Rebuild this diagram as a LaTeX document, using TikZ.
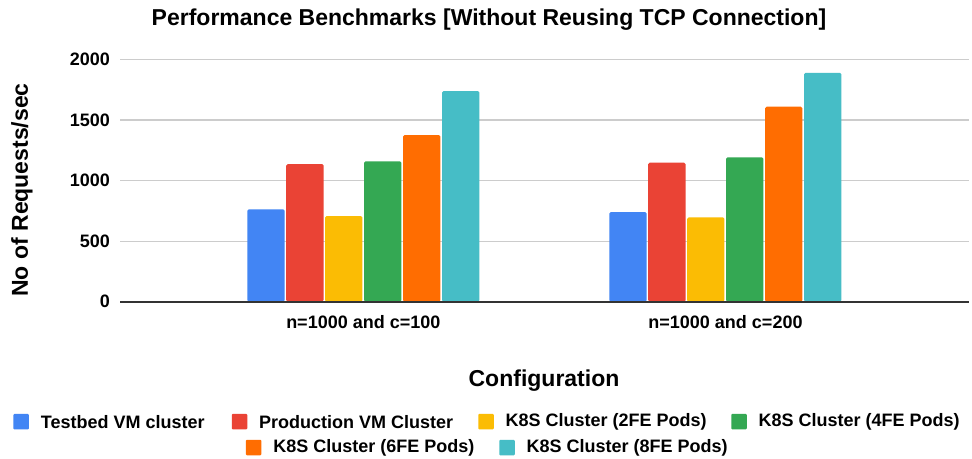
\documentclass[tikz,border=0pt]{standalone}
\usepackage{fontspec}
\setmainfont{Liberation Sans}
\usetikzlibrary{positioning}
\definecolor{tbblue}{HTML}{4285F4}
\definecolor{prodred}{HTML}{EA4335}
\definecolor{kyellow}{HTML}{FBBC04}
\definecolor{kgreen}{HTML}{34A853}
\definecolor{korange}{HTML}{FF6D01}
\definecolor{kteal}{HTML}{46BDC6}
\definecolor{gridgray}{HTML}{CCCCCC}
\definecolor{axisgray}{HTML}{333333}
\begin{document}
\begin{tikzpicture}[x=1pt,y=-1pt,
    lbl/.style={font=\bfseries\fontsize{18}{20}\selectfont,inner sep=0pt},
    bigl/.style={font=\bfseries\fontsize{23}{26}\selectfont,inner sep=0pt},
    gridline/.style={draw=gridgray,line width=1.2pt},
    key/.style={minimum size=15.5pt,inner sep=0pt,rounded corners=1pt}]
  \useasboundingbox (0,0) rectangle (972,458);
  \fill [white] (0,0) rectangle (972,458);
  % title
  \node [bigl] (title) at (489,20) {Performance Benchmarks [Without Reusing TCP Connection]};
  % grid and ticks
  \foreach \v in {500,1000,1500,2000}
    \draw [gridline] (120,{301.7-\v*0.1212}) -- (969,{301.7-\v*0.1212});
  \foreach \v in {0,500,1000,1500,2000}
    \node [lbl,anchor=east] (tick\v) at (110,{301.7-\v*0.1212}) {\v};
  % bars
  \foreach \c/\va/\vb [count=\i from 0] in {tbblue/762/740,prodred/1136/1147,kyellow/707/696,
      kgreen/1158/1191,korange/1375/1609,kteal/1738/1889} {
    \fill [\c,rounded corners=1.5pt] (247.3+\i*38.94,301.7) rectangle ++(37.3,{-\va*0.1212});
    \fill [\c,rounded corners=1.5pt] (609.3+\i*38.94,301.7) rectangle ++(37.3,{-\vb*0.1212});
  }
  \draw [axisgray,line width=1.8pt] (120,301.7) -- (969,301.7);
  % axis labels
  \node [lbl] (cat1) at (363.3,322) {n=1000 and c=100};
  \node [lbl] (cat2) at (725.5,322) {n=1000 and c=200};
  \node [bigl] (xlab) at (544,381) {Configuration};
  \node [bigl,rotate=90] (ylab) at (22,190) {No of Requests/sec};
  % legend
  \node [key,fill=tbblue] (k1) at (21.2,421.7) {};
  \node [lbl,right=11.5pt of k1] (l1) {Testbed VM cluster};
  \node [key,fill=prodred] (k2) at (239.5,421.7) {};
  \node [lbl,right=11.5pt of k2] (l2) {Production VM Cluster};
  \node [key,fill=kyellow] (k3) at (486,421.7) {};
  \node [lbl,right=11.5pt of k3] (l3) {K8S Cluster (2FE Pods)};
  \node [key,fill=kgreen] (k4) at (739,421.7) {};
  \node [lbl,right=11.5pt of k4] (l4) {K8S Cluster (4FE Pods)};
  \node [key,fill=korange] (k5) at (253.7,447.5) {};
  \node [lbl,right=11.5pt of k5] (l5) {K8S Cluster (6FE Pods)};
  \node [key,fill=kteal] (k6) at (507,447.5) {};
  \node [lbl,right=11.5pt of k6] (l6) {K8S Cluster (8FE Pods)};
\end{tikzpicture}
\end{document}
